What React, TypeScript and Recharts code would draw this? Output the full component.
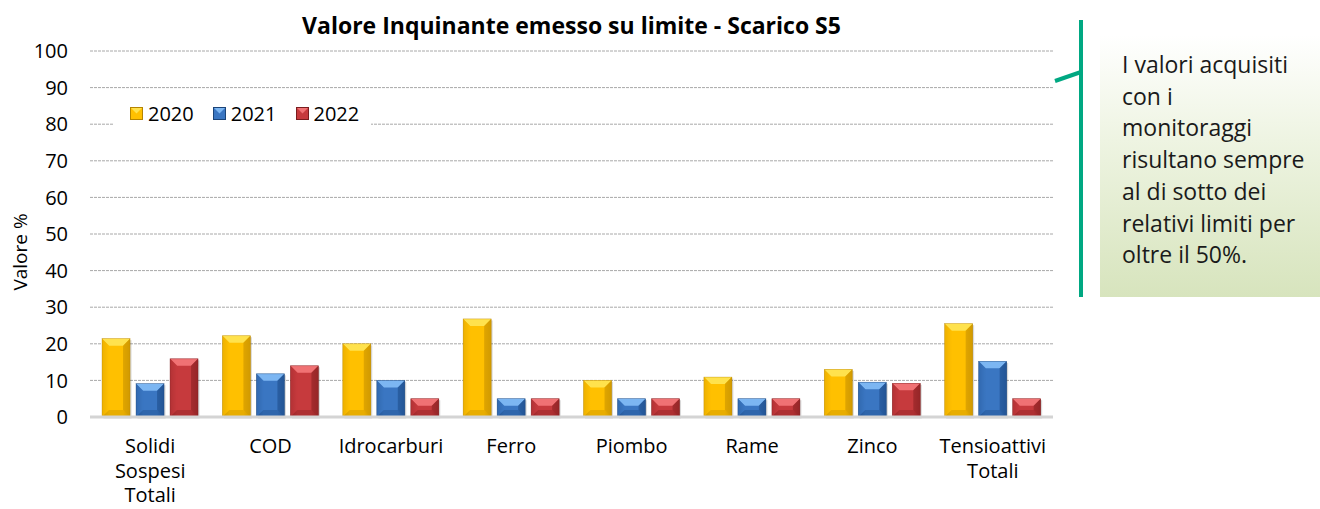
import { BarChart, Bar, XAxis, YAxis, CartesianGrid, Legend, Label } from 'recharts';

const categories = ['Solidi Sospesi Totali', 'COD', 'Idrocarburi', 'Ferro', 'Piombo', 'Rame', 'Zinco', 'Tensioattivi Totali'];
const values2020 = [21.4, 22.2, 20, 26.8, 10, 10.9, 13, 25.5];
const values2021 = [9.1, 11.8, 10, 5, 5, 5, 9.5, 15.2];
const values2022 = [15.9, 14, 5, 5, 5, 5, 9.2, 5];
const yTicks = [0, 10, 20, 30, 40, 50, 60, 70, 80, 90, 100];
const calloutLines = ['I valori acquisiti', 'con i', 'monitoraggi', 'risultano sempre', 'al di sotto dei', 'relativi limiti per', 'oltre il 50%.'];

const FONT = '"Open Sans", "Noto Sans", sans-serif';

const SERIES = [
  { key: 'y2020', name: '2020', base: '#FFC000', light: '#FFE24D', dark: '#D19A00', edge: '#B58400' },
  { key: 'y2021', name: '2021', base: '#3A76C2', light: '#7CB6F2', dark: '#245596', edge: '#1B4478' },
  { key: 'y2022', name: '2022', base: '#C63A3D', light: '#F07274', dark: '#962628', edge: '#7A1C1E' },
];

const data = categories.map((c, i) => ({
  name: c,
  y2020: values2020[i],
  y2021: values2021[i],
  y2022: values2022[i],
}));

function bevelShape(s: (typeof SERIES)[number]) {
  return (props: any) => {
    const { x, y, width: w, height: h } = props;
    if (!h || h <= 0) return <g />;
    const b = Math.min(7, h / 2, w / 2);
    return (
      <g>
        <rect x={x + 1.5} y={y + 1.5} width={w} height={h} fill="#000" opacity={0.15} />
        <rect x={x} y={y} width={w} height={h} fill={`url(#body-${s.key})`} />
        <polygon points={`${x},${y} ${x + w},${y} ${x + w - b},${y + b} ${x + b},${y + b}`} fill={s.light} />
        <polygon points={`${x},${y} ${x + b},${y + b} ${x + b},${y + h - b} ${x},${y + h}`} fill={s.base} opacity={0.6} />
        <polygon points={`${x + w},${y} ${x + w - b},${y + b} ${x + w - b},${y + h - b} ${x + w},${y + h}`} fill={s.dark} opacity={0.7} />
        <polygon points={`${x},${y + h} ${x + b},${y + h - b} ${x + w - b},${y + h - b} ${x + w},${y + h}`} fill={s.dark} opacity={0.5} />
        <rect x={x} y={y} width={w} height={h} fill="none" stroke={s.edge} strokeWidth={0.6} opacity={0.6} />
      </g>
    );
  };
}

const CategoryTick = ({ x, y, payload }: any) => {
  const words = String(payload.value).split(' ');
  return (
    <text x={x} y={y} textAnchor="middle" fill="#000" fontSize={20} fontFamily={FONT}>
      {words.map((w, i) => (
        <tspan key={i} x={x} dy={i === 0 ? 28 : 24.5}>
          {w}
        </tspan>
      ))}
    </text>
  );
};

const LegendContent = () => (
  <div style={{ display: 'flex', alignItems: 'center', height: '100%', paddingLeft: 17, fontFamily: FONT, fontSize: 20 }}>
    {SERIES.map((s) => (
      <div key={s.key} style={{ display: 'flex', alignItems: 'center', marginRight: 19 }}>
        <svg width={13} height={13} style={{ marginRight: 5 }}>
          <rect x={0.5} y={0.5} width={12} height={12} fill={s.base} stroke={s.edge} strokeWidth={1} />
          <polygon points="1,1 12,1 6.5,6.5" fill={s.light} />
        </svg>
        <span>{s.name}</span>
      </div>
    ))}
  </div>
);

const YLabel = ({ viewBox }: any) => {
  const cx = 20;
  const cy = viewBox.y + viewBox.height / 2 + 18;
  return (
    <text
      x={cx}
      y={cy}
      transform={`rotate(-90, ${cx}, ${cy})`}
      textAnchor="middle"
      dominantBaseline="central"
      fontSize={19}
      fill="#000"
      fontFamily={FONT}
    >
      Valore %
    </text>
  );
};

export default function App() {
  return (
    <div style={{ position: 'absolute', left: 0, top: 0, width: 1320, height: 509, background: '#fff', fontFamily: FONT }}>
      <div
        style={{
          position: 'absolute',
          left: 90,
          width: 963,
          top: 10,
          lineHeight: '30px',
          textAlign: 'center',
          fontWeight: 700,
          fontSize: 23,
          color: '#000',
        }}
      >
        Valore Inquinante emesso su limite - Scarico S5
      </div>

      <div style={{ position: 'absolute', left: 0, top: 0 }}>
        <BarChart width={1056} height={509} data={data} margin={{ top: 51, right: 3, bottom: 0, left: 0 }} barCategoryGap="10%" barGap={6}>
          <defs>
            {SERIES.map((s) => (
              <linearGradient key={s.key} id={`body-${s.key}`} x1="0" y1="0" x2="1" y2="0">
                <stop offset="0%" stopColor={s.dark} />
                <stop offset="25%" stopColor={s.base} />
                <stop offset="75%" stopColor={s.base} />
                <stop offset="100%" stopColor={s.dark} />
              </linearGradient>
            ))}
          </defs>
          <CartesianGrid vertical={false} stroke="#a8a8a8" strokeDasharray="3 1" />
          <XAxis
            dataKey="name"
            height={92}
            tickLine={false}
            axisLine={{ stroke: '#d4d4d4', strokeWidth: 3 }}
            tick={<CategoryTick />}
            interval={0}
          />
          <YAxis
            width={90}
            domain={[0, 100]}
            ticks={yTicks}
            tickLine={false}
            axisLine={false}
            tickMargin={16}
            tick={{ fontSize: 20, fill: '#000', fontFamily: FONT }}
          >
            <Label content={<YLabel />} />
          </YAxis>
          <Legend
            layout="vertical"
            align="center"
            verticalAlign="middle"
            content={<LegendContent />}
            wrapperStyle={{ left: 113, top: 97, width: 258, height: 32, background: '#fff' }}
          />
          {SERIES.map((s) => (
            <Bar key={s.key} dataKey={s.key} name={s.name} fill={s.base} shape={bevelShape(s)} isAnimationActive={false} />
          ))}
        </BarChart>
      </div>

      <svg style={{ position: 'absolute', left: 1040, top: 0 }} width={60} height={320}>
        <line x1={41} y1={20} x2={41} y2={297} stroke="#00A882" strokeWidth={4} />
        <line x1={15} y1={81} x2={41} y2={72} stroke="#00A882" strokeWidth={4} />
      </svg>

      <div
        style={{
          position: 'absolute',
          left: 1100,
          top: 35,
          width: 220,
          height: 262,
          boxSizing: 'border-box',
          padding: '14px 0 0 22px',
          background: 'linear-gradient(to bottom, #ffffff 0%, #eef4e2 40%, #d7e4bd 100%)',
          fontSize: 23,
          lineHeight: '31.7px',
          color: '#1a1a1a',
        }}
      >
        {calloutLines.map((l, i) => (
          <div key={i} style={{ whiteSpace: 'nowrap' }}>
            {l}
          </div>
        ))}
      </div>
    </div>
  );
}
